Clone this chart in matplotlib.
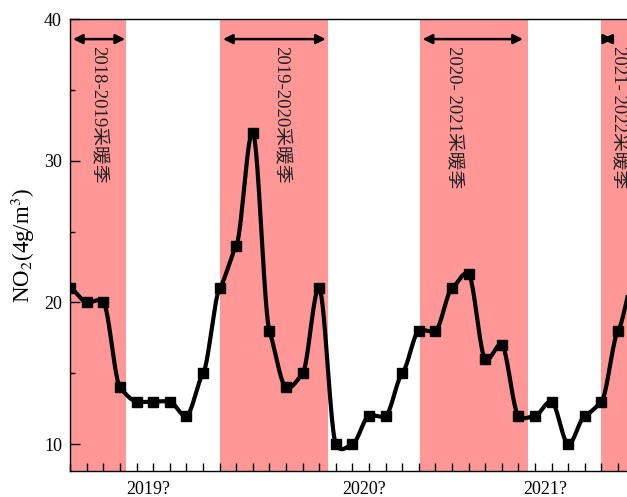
import numpy as np
import matplotlib
matplotlib.use('Agg')
import matplotlib.pyplot as plt

plt.rcParams['font.family'] = ['Liberation Serif', 'Noto Sans CJK SC']
plt.rcParams['mathtext.fontset'] = 'stix'

# monthly NO2 means (month index 0 = first month of the record)
months = np.arange(35)
no2 = [21, 20, 20, 14, 13, 13, 13, 12, 15, 21, 24, 32, 18, 14, 15, 21, 10, 10,
       12, 12, 15, 18, 18, 21, 22, 16, 17, 12, 12, 13, 10, 12, 13, 18, 22]

# heating seasons (start, end in month index) and their labels
season_start = [0.0, 9.0, 21.07, 32.0]
season_end = [3.35, 15.5, 27.55, 40.0]
season_labels = ['2018-2019采暖季', '2019-2020采暖季', '2020- 2021采暖季', '2021- 2022采暖季']
label_x = [1.61, 12.63, 23.05, 33.0]
arrow_from = [0.16, 9.2, 21.23, 32.05]
arrow_to = [3.3, 15.39, 27.27, 32.7]

year_pos = [4.70, 17.72, 28.6]
year_labels = ['2019?', '2020?', '2021?']


def cardinal_spline(x, y, tension=0.4, per_seg=30):
    # Hermite segments with reduced Catmull-Rom tangents
    x = np.asarray(x, float)
    y = np.asarray(y, float)
    m = np.zeros_like(y)
    m[1:-1] = tension * (y[2:] - y[:-2]) / (x[2:] - x[:-2])
    m[0] = tension * (y[1] - y[0]) / (x[1] - x[0])
    m[-1] = tension * (y[-1] - y[-2]) / (x[-1] - x[-2])
    xs, ys = [], []
    t = np.linspace(0, 1, per_seg, endpoint=False)
    for i in range(len(x) - 1):
        h = x[i + 1] - x[i]
        h00 = 2 * t**3 - 3 * t**2 + 1
        h10 = t**3 - 2 * t**2 + t
        h01 = -2 * t**3 + 3 * t**2
        h11 = t**3 - t**2
        xs.append(x[i] + t * h)
        ys.append(h00 * y[i] + h10 * h * m[i] + h01 * y[i + 1] + h11 * h * m[i + 1])
    xs.append([x[-1]])
    ys.append([y[-1]])
    return np.concatenate(xs), np.concatenate(ys)


fig = plt.figure(figsize=(6.27, 4.97), dpi=100)
ax = fig.add_axes([0.1121, 0.0523, 0.8879, 0.9089])

for s, e in zip(season_start, season_end):
    ax.axvspan(s, e, color='#ff9797', lw=0, zorder=0)

xs, ys = cardinal_spline(months, no2)
ax.plot(xs, ys, color='black', lw=3.0, zorder=3)
ax.plot(months, no2, 's', color='black', ms=6.5, zorder=4)

for x0, x1 in zip(arrow_from, arrow_to):
    ax.annotate('', xy=(x1, 38.6), xytext=(x0, 38.6),
                arrowprops=dict(arrowstyle='<|-|>', color='black', lw=1.8,
                                mutation_scale=14, shrinkA=0, shrinkB=0))

for x, txt in zip(label_x, season_labels):
    ax.text(x, 38.1, txt, rotation=-90, ha='center', va='top', fontsize=13.5,
            color='#222222', zorder=5)

ax.set_xlim(0, 33.54)
ax.set_ylim(8.1, 40)

ax.set_yticks([10, 20, 30, 40])
ax.set_yticks([15, 25, 35], minor=True)
ax.set_xticks(year_pos, year_labels)
ax.set_xticks(months[:34], minor=True)

ax.tick_params(axis='y', which='major', direction='in', length=7, width=1, labelsize=13, pad=6)
ax.tick_params(axis='y', which='minor', direction='in', length=3.5, width=1)
ax.tick_params(axis='x', which='major', length=0, labelsize=13, pad=7)
ax.tick_params(axis='x', which='minor', direction='in', length=5.5, width=1)

ax.spines['right'].set_visible(False)
for sp in ['left', 'bottom', 'top']:
    ax.spines[sp].set_linewidth(1.0)

ax.set_ylabel('NO$_2$(4g/m$^3$)', fontsize=16.5, labelpad=5)

fig.savefig('out.png', dpi=100)
